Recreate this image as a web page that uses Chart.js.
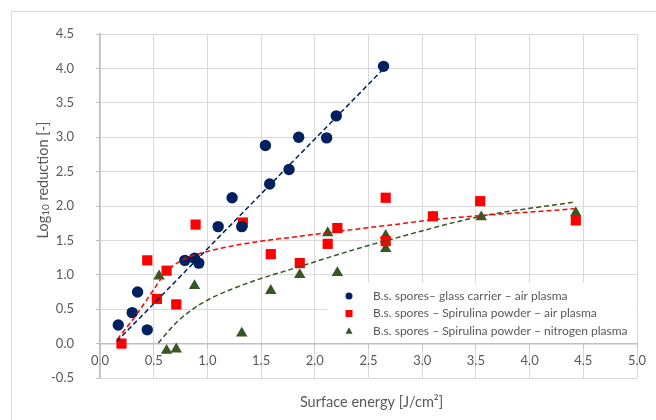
<!DOCTYPE html>
<html>
<head>
<meta charset="utf-8">
<script src="https://cdn.jsdelivr.net/npm/chart.js@4.4.1/dist/chart.umd.min.js"></script>
<style>
  html, body { margin: 0; padding: 0; background: #fff; }
  #wrap { position: relative; width: 656px; height: 420px; overflow: hidden; }
  #frame { position: absolute; left: 11px; top: 11px; width: 700px; height: 500px; border: 1px solid #d9d9d9; }
  #chart { position: absolute; left: 0; top: 0; }
</style>
</head>
<body>
<div id="wrap">
  <div id="frame"></div>
  <canvas id="chart" width="656" height="420"></canvas>
</div>
<script>
// Values
const glassX = [0.17, 0.30, 0.35, 0.44, 0.79, 0.88, 0.92, 1.10, 1.23, 1.32, 1.54, 1.58, 1.76, 1.85, 2.11, 2.20, 2.64];
const glassY = [0.27, 0.45, 0.75, 0.20, 1.21, 1.24, 1.17, 1.70, 2.12, 1.70, 2.88, 2.32, 2.53, 3.00, 2.99, 3.31, 4.03];

const airX = [0.20, 0.44, 0.53, 0.62, 0.71, 0.89, 1.33, 1.59, 1.86, 2.12, 2.21, 2.66, 2.66, 3.10, 3.54, 4.43];
const airY = [0.00, 1.21, 0.65, 1.06, 0.57, 1.73, 1.76, 1.30, 1.17, 1.45, 1.68, 2.12, 1.49, 1.85, 2.07, 1.79];

const nitroX = [0.55, 0.62, 0.71, 0.88, 1.32, 1.59, 1.86, 2.12, 2.21, 2.66, 2.66, 3.10, 3.55, 4.43];
const nitroY = [0.98, -0.10, -0.08, 0.84, 0.15, 0.77, 1.00, 1.61, 1.03, 1.57, 1.38, 1.84, 1.84, 1.90];

// dashed trendlines, sampled along the curves in the picture
const glassTrendX = [0.155, 2.65];
const glassTrendY = [0.03, 4.01];
const airTrendX = [0.16, 0.33, 0.50, 0.62, 0.80, 0.93, 1.30, 1.86, 2.42, 2.79, 3.10, 4.42];
const airTrendY = [0.06, 0.40, 0.785, 1.05, 1.24, 1.31, 1.44, 1.56, 1.67, 1.74, 1.80, 1.96];
const nitroTrendX = [0.543, 0.714, 0.93, 1.29, 1.86, 2.42, 2.65, 3.55, 4.43];
const nitroTrendY = [0.01, 0.31, 0.57, 0.83, 1.12, 1.39, 1.49, 1.85, 2.06];

const seriesLabels = [
  'B.s. spores\u2013 glass carrier \u2013 air plasma',
  'B.s. spores \u2013 Spirulina powder \u2013 air plasma',
  'B.s. spores \u2013 Spirulina powder \u2013 nitrogen plasma'
];

const xTickValues = [0, 0.5, 1.0, 1.5, 2.0, 2.5, 3.0, 3.5, 4.0, 4.5, 5.0];
const yTickValues = [-0.5, 0, 0.5, 1.0, 1.5, 2.0, 2.5, 3.0, 3.5, 4.0, 4.5];
const xTitle = 'Surface energy [J/cm\u00b2]';

const textColor = '#595959';
const blue = '#002060', red = '#ff0000', green = '#375623';

const toPoints = (xs, ys) => xs.map((x, i) => ({ x: x, y: ys[i] }));

function drawMarker(ctx, style, x, y, r, color) {
  ctx.fillStyle = color;
  ctx.beginPath();
  if (style === 'rect') {
    ctx.rect(x - r, y - r, 2 * r, 2 * r);
  } else if (style === 'triangle') {
    ctx.moveTo(x, y - r * 1.1);
    ctx.lineTo(x + r, y + r * 0.8);
    ctx.lineTo(x - r, y + r * 0.8);
    ctx.closePath();
  } else {
    ctx.arc(x, y, r, 0, Math.PI * 2);
  }
  ctx.fill();
}

// legend box inside the plot, lower right
const boxLegend = {
  id: 'boxLegend',
  afterDraw(chart) {
    const ctx = chart.ctx;
    ctx.save();
    ctx.fillStyle = '#fff';
    ctx.fillRect(327, 283, 309, 60);
    ctx.font = '12px Lato';
    ctx.textAlign = 'left';
    ctx.textBaseline = 'middle';
    chart.data.datasets.filter(d => d.inLegend).forEach((d, i) => {
      const y = 296 + i * 17.5;
      drawMarker(ctx, d.pointStyle, 349, y, 3.5, d.backgroundColor);
      ctx.fillStyle = textColor;
      ctx.fillText(d.label, 373, y);
    });
    ctx.restore();
  }
};

// axis titles (y title needs a subscript)
const axisTitles = {
  id: 'axisTitles',
  afterDraw(chart) {
    const ctx = chart.ctx;
    const area = chart.chartArea;
    ctx.save();
    ctx.fillStyle = textColor;
    ctx.font = '14.5px Lato';
    ctx.textAlign = 'center';
    ctx.textBaseline = 'middle';
    ctx.fillText(xTitle, (area.left + area.right) / 2 + 3, 402);

    ctx.translate(43, 180);
    ctx.rotate(-Math.PI / 2);
    const parts = [['Log', 14.5, 0], ['10', 10, 3], [' reduction [-]', 14.5, 0]];
    let total = 0;
    parts.forEach(p => { ctx.font = p[1] + 'px Lato'; total += ctx.measureText(p[0]).width; });
    let x = -total / 2;
    ctx.textAlign = 'left';
    parts.forEach(p => {
      ctx.font = p[1] + 'px Lato';
      ctx.fillText(p[0], x, p[2]);
      x += ctx.measureText(p[0]).width;
    });
    ctx.restore();
  }
};

const pointSet = (label, xs, ys, style, radius, color) => ({
  label: label,
  data: toPoints(xs, ys),
  pointStyle: style,
  pointRadius: radius,
  pointHoverRadius: radius,
  backgroundColor: color,
  borderColor: color,
  borderWidth: 0,
  showLine: false,
  inLegend: true,
  order: 1
});

const trendSet = (xs, ys, color) => ({
  label: '',
  data: toPoints(xs, ys),
  showLine: true,
  pointRadius: 0,
  borderColor: color,
  borderWidth: 1.5,
  borderDash: [5, 3],
  cubicInterpolationMode: 'monotone',
  fill: false,
  order: 0
});

Chart.defaults.font.family = 'Lato';
Chart.defaults.color = textColor;

new Chart(document.getElementById('chart'), {
  type: 'scatter',
  data: {
    datasets: [
      pointSet(seriesLabels[0], glassX, glassY, 'circle', 5.7, blue),
      pointSet(seriesLabels[1], airX, airY, 'rect', 7.2, red),
      pointSet(seriesLabels[2], nitroX, nitroY, 'triangle', 6.6, green),
      trendSet(glassTrendX, glassTrendY, blue),
      trendSet(airTrendX, airTrendY, red),
      trendSet(nitroTrendX, nitroTrendY, green)
    ]
  },
  options: {
    responsive: false,
    animation: false,
    layout: { padding: { left: 0, right: 19, top: 34, bottom: 42 } },
    plugins: {
      legend: { display: false },
      tooltip: { enabled: false }
    },
    scales: {
      x: {
        type: 'linear',
        position: { y: 0 },
        min: 0,
        max: 5,
        afterBuildTicks: s => { s.ticks = xTickValues.map(v => ({ value: v })); },
        ticks: {
          font: { size: 13 },
          color: textColor,
          padding: 5,
          maxRotation: 0,
          callback: v => Number(v).toFixed(1)
        },
        grid: { color: '#d9d9d9', tickColor: '#bfbfbf', tickLength: 4 },
        border: { color: '#bfbfbf', width: 1.5 }
      },
      y: {
        type: 'linear',
        position: 'left',
        min: -0.5,
        max: 4.5,
        afterFit: s => { s.width = 100; },
        afterBuildTicks: s => { s.ticks = yTickValues.map(v => ({ value: v })); },
        ticks: {
          font: { size: 13 },
          color: textColor,
          padding: 22,
          callback: v => Number(v).toFixed(1)
        },
        grid: { color: '#d9d9d9', tickColor: '#bfbfbf', tickLength: 4 },
        border: { color: '#bfbfbf', width: 1.5 }
      }
    }
  },
  plugins: [boxLegend, axisTitles]
});
</script>
</body>
</html>
